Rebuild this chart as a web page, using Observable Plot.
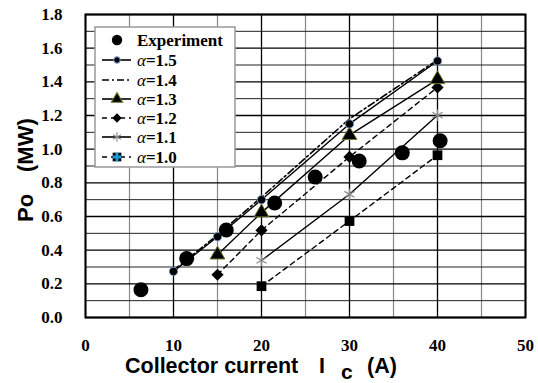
<!DOCTYPE html>
<html><head><meta charset="utf-8">
<script src="https://cdn.jsdelivr.net/npm/d3@7"></script>
<script src="https://cdn.jsdelivr.net/npm/@observablehq/plot@0.6"></script>
<style>
body{margin:0;background:#fff}
#chart{width:538px;height:383px}
#chart svg text, #chart svg tspan{font-family:"Liberation Serif","Times New Roman",Tinos,serif}
#chart svg text.sans, #chart svg text.sans tspan{font-family:"Liberation Sans",Arial,Arimo,sans-serif}
</style>
</head><body><div id="chart"></div>
<script>
// ---- data ----
const expI = [6.3, 11.5, 16.0, 21.5, 26.1, 31.1, 36.0, 40.3];
const expP = [0.165, 0.35, 0.52, 0.68, 0.835, 0.93, 0.978, 1.05];
const a15I = [10, 15, 20, 30, 40];
const a15P = [0.274, 0.48, 0.70, 1.15, 1.524];
const a14I = [10, 15, 20, 30, 40];
const a14P = [0.28, 0.49, 0.715, 1.18, 1.53];
const a13I = [15, 20, 30, 40];
const a13P = [0.373, 0.623, 1.083, 1.415];
const a12I = [15, 20, 30, 40];
const a12P = [0.254, 0.518, 0.954, 1.367];
const a11I = [20, 30, 40];
const a11P = [0.339, 0.732, 1.202];
const a10I = [20, 30, 40];
const a10P = [0.186, 0.573, 0.964];
const xTicks = [0, 10, 20, 30, 40, 50];
const yTicks = [0, 0.2, 0.4, 0.6, 0.8, 1.0, 1.2, 1.4, 1.6, 1.8];
const xMinor = [5, 15, 25, 35, 45];
const yMinor = [0.1, 0.3, 0.5, 0.7, 0.9, 1.1, 1.3, 1.5, 1.7];
const legendLabels = ["Experiment", "α=1.5", "α=1.4", "α=1.3", "α=1.2", "α=1.1", "α=1.0"];

const toRows = (xs, ys) => xs.map((x, i) => ({I: x, P: ys[i]}));
const exp = toRows(expI, expP);
const a15 = toRows(a15I, a15P);
const a14 = toRows(a14I, a14P);
const a13 = toRows(a13I, a13P);
const a12 = toRows(a12I, a12P);
const a11 = toRows(a11I, a11P);
const a10 = toRows(a10I, a10P);

const dash = "5,4";
const dashdot = "7,3,2,3";
const serif = "Liberation Serif";

const plot = Plot.plot({
  width: 538, height: 383,
  marginLeft: 85, marginRight: 13, marginTop: 14, marginBottom: 66,
  x: {domain: [0, 50]},
  y: {domain: [0, 1.8]},
  style: {fontSize: "17px", fontWeight: "bold", color: "#000", background: "#fff"},
  marks: [
    Plot.ruleX(xMinor, {stroke: "#888", strokeWidth: 1.2}),
    Plot.ruleX(xTicks, {stroke: "#000", strokeWidth: 1.3}),
    Plot.ruleY(yMinor, {stroke: "#222", strokeWidth: 1}),
    Plot.ruleY(yTicks, {stroke: "#000", strokeWidth: 1.4}),
    Plot.frame({stroke: "#000", strokeWidth: 2}),
    Plot.axisX({ticks: xTicks, tickSize: 0, tickPadding: 21, tickFormat: d => d, label: null, fontSize: 17, fontFamily: serif, fontWeight: "bold"}),
    Plot.axisY({ticks: yTicks, tickSize: 0, tickPadding: 23, tickFormat: d => d.toFixed(1), label: null, fontSize: 17, fontFamily: serif, fontWeight: "bold"}),
    Plot.line(a10, {x: "I", y: "P", stroke: "#000", strokeWidth: 1.4, strokeDasharray: dash}),
    Plot.line(a11, {x: "I", y: "P", stroke: "#000", strokeWidth: 1.4}),
    Plot.line(a12, {x: "I", y: "P", stroke: "#000", strokeWidth: 1.4, strokeDasharray: dash}),
    Plot.line(a13, {x: "I", y: "P", stroke: "#000", strokeWidth: 1.4}),
    Plot.line(a14, {x: "I", y: "P", stroke: "#000", strokeWidth: 1.6, strokeDasharray: dashdot}),
    Plot.line(a15, {x: "I", y: "P", stroke: "#000", strokeWidth: 1.4}),
    Plot.dot(a10, {x: "I", y: "P", symbol: "square", r: 5.5, fill: "#000", stroke: "none"}),
    Plot.dot(a10, {x: "I", y: "P", symbol: "plus", r: 4.5, fill: "#1a9bd7", stroke: "none"}),
    Plot.dot(a11, {x: "I", y: "P", symbol: "asterisk", r: 5.5, stroke: "#888", strokeWidth: 1.2}),
    Plot.dot(a12, {x: "I", y: "P", symbol: "diamond2", r: 5.5, fill: "#000", stroke: "none"}),
    Plot.dot(a13, {x: "I", y: "P", symbol: "triangle", r: 5.5, fill: "#000", stroke: "#6b7a2a", strokeWidth: 1}),
    Plot.dot(a15, {x: "I", y: "P", symbol: "circle", r: 4.2, fill: "#000", stroke: "#7a9cc6", strokeWidth: 1}),
    Plot.dot(exp, {x: "I", y: "P", symbol: "circle", r: 7.5, fill: "#000", stroke: "none"})
  ]
});
document.getElementById("chart").appendChild(plot);

const svg = d3.select(plot);
// force serif on Plot's tick labels
svg.selectAll('g[aria-label$="tick label"] text')
  .style("font-family", '"Liberation Serif", "Times New Roman", serif')
  .style("font-weight", "bold");

// ---- axis titles ----
const xt = svg.append("text").attr("class", "sans").attr("x", 125).attr("y", 373)
  .attr("text-anchor", "start").attr("font-weight", "bold")
  .attr("font-size", 21.5).attr("fill", "#000");
xt.append("tspan").text("Collector current");
xt.append("tspan").attr("x", 319).text("I");
xt.append("tspan").attr("x", 341).attr("dy", 6).attr("font-size", 21).text("c");
xt.append("tspan").attr("x", 367).attr("dy", -6).text("(A)");

svg.append("text").attr("class", "sans").attr("transform", "translate(33,222) rotate(-90)")
  .attr("text-anchor", "start").attr("font-weight", "bold")
  .attr("font-size", 22).attr("fill", "#000").text("Po");
svg.append("text").attr("class", "sans").attr("transform", "translate(33,172) rotate(-90)")
  .attr("text-anchor", "start").attr("font-weight", "bold")
  .attr("font-size", 22).attr("fill", "#000").text("(MW)");

// ---- legend ----
const lg = svg.append("g");
lg.append("rect").attr("x", 95).attr("y", 27).attr("width", 140).attr("height", 140)
  .attr("fill", "#fff").attr("stroke", "#999").attr("stroke-width", 1.5);
const rowY = [40, 60, 80, 99, 118, 137, 157];
const styles = [
  {line: false, sym: d3.symbolCircle, size: 85, fill: "#000", stroke: "none"},
  {line: true, dash: null, sym: d3.symbolCircle, size: 32, fill: "#000", stroke: "#7a9cc6"},
  {line: true, dash: dashdot, sym: null},
  {line: true, dash: null, sym: d3.symbolTriangle, size: 55, fill: "#000", stroke: "#6b7a2a"},
  {line: true, dash: dash, sym: d3.symbolDiamond2, size: 55, fill: "#000", stroke: "none"},
  {line: true, dash: null, sym: d3.symbolAsterisk, size: 60, fill: "none", stroke: "#888"},
  {line: true, dash: dash, sym: d3.symbolSquare, size: 75, fill: "#000", stroke: "none", cross: true}
];
legendLabels.forEach((lab, i) => {
  const s = styles[i], y = rowY[i];
  if (s.line) {
    lg.append("line").attr("x1", 102).attr("x2", 131).attr("y1", y).attr("y2", y)
      .attr("stroke", "#000").attr("stroke-width", 1.6)
      .attr("stroke-dasharray", s.dash);
  }
  if (s.sym) {
    lg.append("path").attr("transform", `translate(117,${y})`)
      .attr("d", d3.symbol(s.sym, s.size)())
      .attr("fill", s.fill).attr("stroke", s.stroke).attr("stroke-width", 1.1);
  }
  if (s.cross) {
    lg.append("path").attr("transform", `translate(117,${y})`)
      .attr("d", d3.symbol(d3.symbolCross, 40)()).attr("fill", "#1a9bd7");
  }
  const t = lg.append("text").attr("x", 137).attr("y", y).attr("dy", "0.35em")
    .attr("text-anchor", "start").attr("font-size", 17).attr("font-weight", "bold")
    .attr("fill", "#000");
  if (i === 0) {
    t.text(lab);
  } else {
    t.append("tspan").attr("font-style", "italic").attr("font-weight", "normal").text(lab.slice(0, 1));
    t.append("tspan").text(lab.slice(1));
  }
});
</script>
</body></html>
